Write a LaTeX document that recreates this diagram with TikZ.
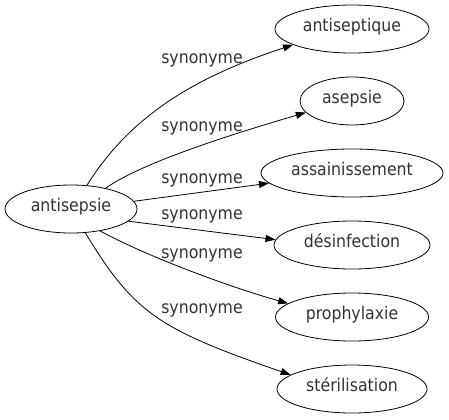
\documentclass[tikz,border=0pt]{standalone}
\usepackage{fontspec}
\setsansfont{DejaVu Sans Condensed}
\usetikzlibrary{shapes.geometric, arrows.meta}

\begin{document}
\begin{tikzpicture}[x=1bp, y=1bp, line width=0.8bp,
  font=\sffamily\fontsize{17.5bp}{21bp}\selectfont,
  word/.style={draw, ellipse, inner sep=0pt, minimum height=48bp,
    text height=0.75em, text depth=0.2em, text=black!80},
  syn/.style={-{Triangle[length=10bp, width=7bp]}},
  rel/.style={anchor=base, text=black!80}]
  \useasboundingbox (0,0) rectangle (449,419);
  % mot central
  \node[word, minimum width=132bp] (antisepsie) at (71,210) {antisepsie};
  % synonymes
  \node[word, minimum width=154bp] (antiseptique) at (352,390) {antiseptique};
  \node[word, minimum width=104bp] (asepsie) at (352,318) {asepsie};
  \node[word, minimum width=182bp] (assainissement) at (352,246) {assainissement};
  \node[word, minimum width=156bp] (desinfection) at (352,174) {désinfection};
  \node[word, minimum width=153bp] (prophylaxie) at (352,102) {prophylaxie};
  \node[word, minimum width=150bp] (sterilisation) at (352,30) {stérilisation};
  % liens
  \draw[syn] (antisepsie.56) .. controls (130,303) and (195,342) .. (antiseptique.195);
  \draw[syn] (antisepsie.31) .. controls (144,258) and (243,288) .. (asepsie.194);
  \draw[syn] (antisepsie.7) -- (assainissement.187);
  \draw[syn] (antisepsie.348) -- (desinfection.176);
  \draw[syn] (antisepsie.323) .. controls (144,164) and (226,133) .. (prophylaxie.168);
  \draw[syn] (antisepsie.301) .. controls (134,106) and (158,90) .. (sterilisation.167);
  % etiquettes
  \node[rel] (l1) at (202,356) {synonyme};
  \node[rel] (l2) at (202,288) {synonyme};
  \node[rel] (l3) at (202,236) {synonyme};
  \node[rel] (l4) at (202,200) {synonyme};
  \node[rel] (l5) at (202,161) {synonyme};
  \node[rel] (l6) at (202,106) {synonyme};
\end{tikzpicture}
\end{document}
